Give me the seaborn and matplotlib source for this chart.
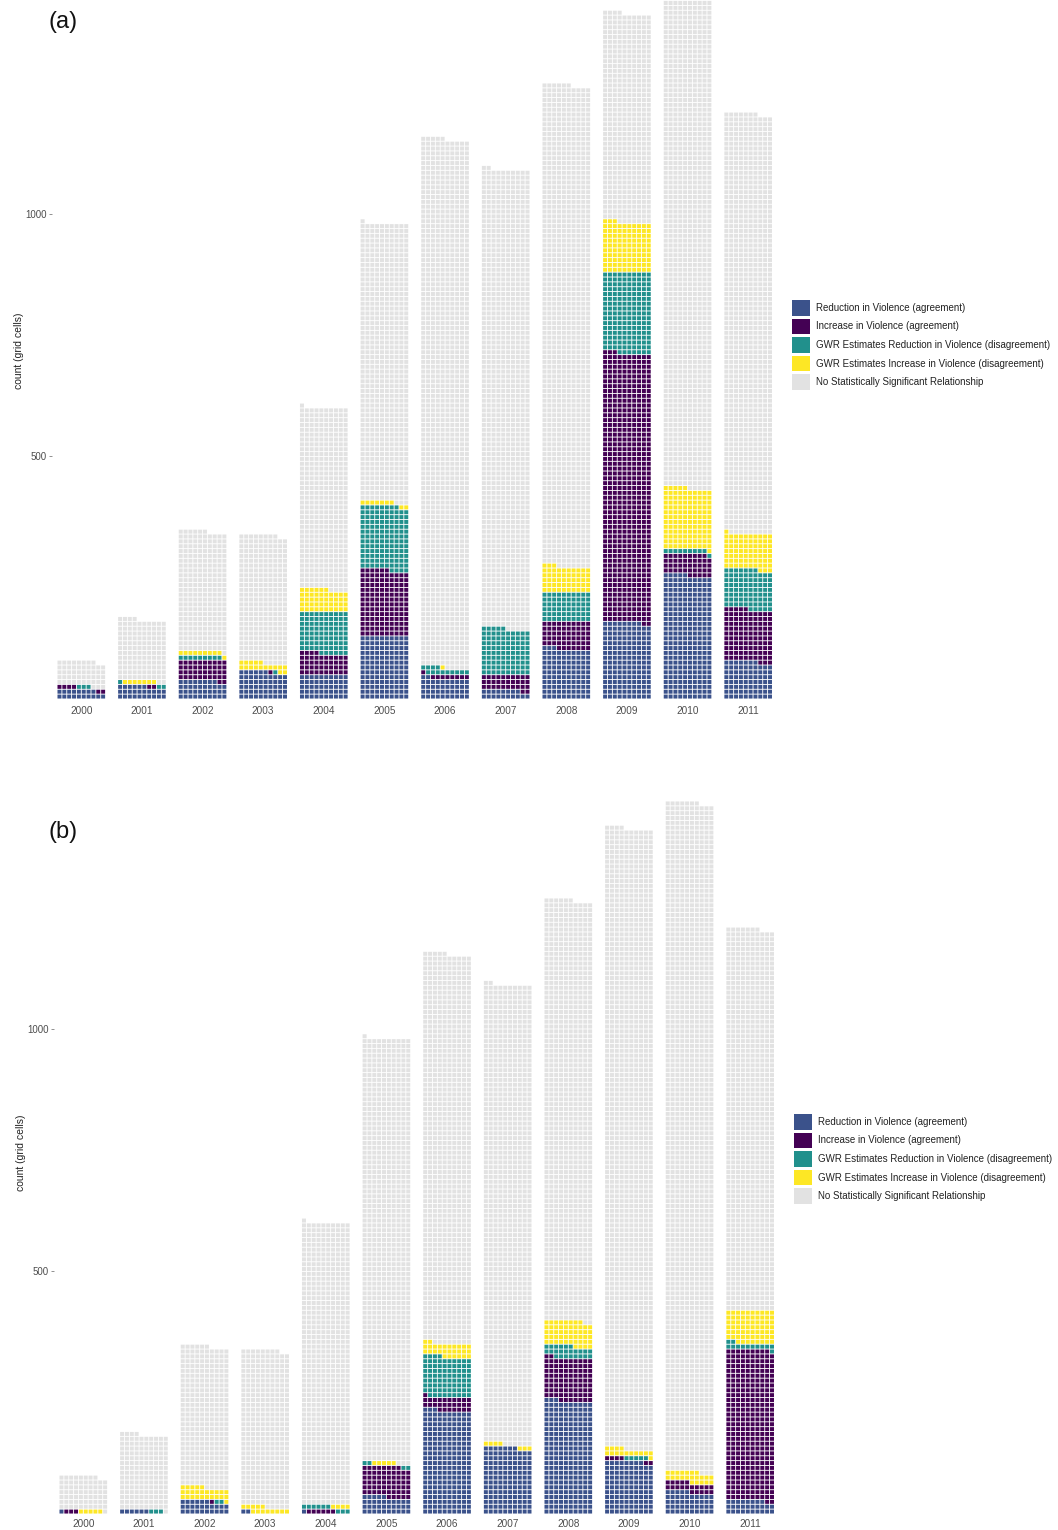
import numpy as np
import pandas as pd
import matplotlib
matplotlib.use("Agg")
import matplotlib.pyplot as plt
import seaborn as sns
from matplotlib.patches import Patch

# waffle bars: 10 cells per row, 1 cell = 1 grid cell
years = list(range(2000, 2012))
categories = ["Reduction in Violence (agreement)",
              "Increase in Violence (agreement)",
              "GWR Estimates Reduction in Violence (disagreement)",
              "GWR Estimates Increase in Violence (disagreement)",
              "No Statistically Significant Relationship"]
colors = ["#3B528B", "#440154", "#21908C", "#FDE725", "#E2E2E2"]

# panel (a)
blue_a = [18, 26, 38, 56, 50, 130, 42, 18, 103, 158, 255, 77]
purple_a = [6, 2, 42, 1, 44, 136, 9, 32, 57, 555, 44, 108]
teal_a = [3, 3, 9, 1, 86, 132, 13, 95, 60, 167, 10, 82]
yellow_a = [0, 7, 10, 17, 46, 9, 1, 0, 53, 103, 126, 74]
grey_a = [51, 126, 247, 263, 375, 574, 1090, 947, 993, 431, 1032, 866]

# panel (b)
blue_b = [1, 6, 26, 2, 1, 35, 213, 137, 233, 108, 45, 28]
purple_b = [3, 0, 1, 0, 6, 63, 28, 0, 89, 6, 20, 311]
teal_b = [0, 3, 2, 0, 9, 4, 83, 0, 24, 5, 0, 13]
yellow_b = [5, 0, 26, 13, 4, 5, 28, 7, 52, 15, 22, 68]
grey_b = [69, 155, 291, 323, 581, 874, 803, 948, 868, 1280, 1380, 787]

N_COLS = 10
BAR_STEP = 12.5  # columns between bar starts


def make_cells(series):
    recs = []
    for i, yr in enumerate(years):
        k = 0
        for cat, vals in zip(categories, series):
            for _ in range(vals[i]):
                recs.append((yr, i * BAR_STEP + k % N_COLS + 0.5,
                             (k // N_COLS) * N_COLS + N_COLS / 2, cat))
                k += 1
    return pd.DataFrame(recs, columns=["year", "x", "y", "category"])


sns.set_theme(style="white")
plt.rcParams["font.family"] = ["Liberation Sans", "DejaVu Sans"]

W, H = 1058, 1530
fig = plt.figure(figsize=(W / 100, H / 100), dpi=100)

px = 4.85  # pixels per cell
xlim = (-1, (len(years) - 1) * BAR_STEP + N_COLS + 1)
pal = dict(zip(categories, colors))
fill = 0.82  # share of a cell that is coloured


def draw_panel(series, left_px, bottom_px, top_px, tag, tag_y, legend_y, xpad):
    width_px = (xlim[1] - xlim[0]) * px
    ax = fig.add_axes([left_px / W, 1 - bottom_px / H, width_px / W, (bottom_px - top_px) / H])
    cells = make_cells(series)
    for cat in categories:
        sub = cells[cells["category"] == cat]
        if len(sub):
            bars = ax.bar(sub["x"], fill * N_COLS, bottom=sub["y"] - fill * N_COLS / 2,
                          width=fill, color=pal[cat], linewidth=0)
            for b in bars:
                b.set_snap(False)
    ax.set_xlim(*xlim)
    ymin = -5
    ax.set_ylim(ymin, ymin + (bottom_px - top_px) / (px / N_COLS))
    ax.set_xticks([i * BAR_STEP + N_COLS / 2 for i in range(len(years))])
    ax.set_xticklabels([str(y) for y in years])
    ax.set_yticks([500, 1000])
    ax.set_yticklabels(["500", "1000"])
    ax.tick_params(axis="x", length=0, labelsize=7.2, labelcolor="#4D4D4D", pad=xpad)
    ax.tick_params(axis="y", length=2, width=0.6, color="#7F7F7F", labelsize=7,
                   labelcolor="#4D4D4D", pad=2, left=True)
    ax.set_xlabel("")
    ax.set_ylabel("count (grid cells)", fontsize=7.5, color="#222222", labelpad=1)
    for sp in ax.spines.values():
        sp.set_visible(False)
    ax.grid(False)
    fig.text(48 / W, 1 - tag_y / H, tag, fontsize=17, ha="left", va="center",
             color="#111111")
    handles = [Patch(facecolor=c, edgecolor="none") for c in colors]
    fig.legend(handles, categories, loc="center left",
               bbox_to_anchor=((left_px + 740) / W, 1 - legend_y / H),
               frameon=False, fontsize=7, handlelength=1.8, handleheight=2.1,
               labelspacing=0.3, handletextpad=0.6, borderpad=0, borderaxespad=0,
               labelcolor="#222222")
    return ax


draw_panel([blue_a, purple_a, teal_a, yellow_a, grey_a], 52.2, 701.4, 0, "(a)", 22, 345, 3)
draw_panel([blue_b, purple_b, teal_b, yellow_b, grey_b], 54.2, 1516.4, 790, "(b)", 832, 1159, 2)

fig.savefig("out.png", dpi=100)
